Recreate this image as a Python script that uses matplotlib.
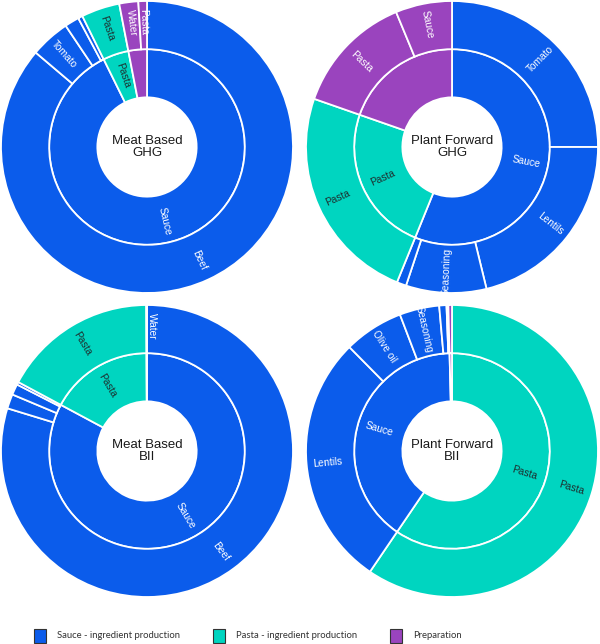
import matplotlib.pyplot as plt
from matplotlib.patches import Rectangle

plt.rcParams['font.family'] = ['Liberation Sans', 'DejaVu Sans']

BLUE = '#0B5CEB'
TEAL = '#00D5C0'
PURPLE = '#9A44BE'

group_names = ['Sauce', 'Pasta', 'Preparation']
group_colors = [BLUE, TEAL, PURPLE]
legend_labels = ['Sauce - ingredient production', 'Pasta - ingredient production', 'Preparation']

# outer ring: ingredient name, group index (0 sauce, 1 pasta, 2 preparation), share in %
mb_ghg_names = ['Beef', 'Tomato', '', '', 'Pasta', 'Water', 'Pasta']
mb_ghg_group = [0, 0, 0, 0, 1, 2, 2]
mb_ghg_vals = [86.2, 4.4, 1.6, 0.5, 4.25, 2.1, 0.95]

pf_ghg_names = ['Tomato', 'Lentils', 'Seasoning', '', 'Pasta', 'Pasta', 'Sauce']
pf_ghg_group = [0, 0, 0, 0, 1, 2, 2]
pf_ghg_vals = [25.0, 21.2, 8.9, 1.05, 24.2, 13.4, 6.25]

mb_bii_names = ['Beef', '', '', '', 'Pasta', 'Water']
mb_bii_group = [0, 0, 0, 0, 1, 2]
mb_bii_vals = [79.75, 1.6, 1.2, 0.3, 17.1, 0.08]

pf_bii_names = ['Pasta', 'Lentils', 'Olive oil', 'Seasoning', '', '', '']
pf_bii_group = [1, 0, 0, 0, 0, 0, 2]
pf_bii_vals = [59.5, 28.1, 6.6, 4.4, 0.8, 0.2, 0.4]

W, H = 600, 644
R = 146
fig = plt.figure(figsize=(W / 100, H / 100), dpi=100)


def label(ax, wedge, text, r, grp):
    mid = (wedge.theta1 + wedge.theta2) / 2
    span = wedge.theta2 - wedge.theta1
    ang = (mid + 180) % 360 - 180
    rot = ang
    if rot > 90:
        rot -= 180
    elif rot < -90:
        rot += 180
    x = r * np.cos(np.radians(mid))
    y = r * np.sin(np.radians(mid))
    col = '#1d2f2f' if grp == 1 else 'white'
    t = ax.text(x, y, text, rotation=rot, rotation_mode='anchor',
                ha='center', va='bottom' if span < 1.5 else 'center',
                fontsize=7.3, color=col)
    if span >= 1.5:
        t.set_clip_path(wedge)


import numpy as np


def sunburst(cx, cy, title, names, grp, vals):
    ax = fig.add_axes([(cx - R) / W, (H - cy - R) / H, 2 * R / W, 2 * R / H])
    order = []
    for g in grp:
        if g not in order:
            order.append(g)
    inner_vals = [sum(v for v, g in zip(vals, grp) if g == k) for k in order]
    wp = dict(width=0.33, edgecolor='white', linewidth=1.3)
    inner, _ = ax.pie(inner_vals, radius=0.67, startangle=90, counterclock=False,
                      colors=[group_colors[k] for k in order], wedgeprops=wp)
    outer, _ = ax.pie(vals, radius=1.0, startangle=90, counterclock=False,
                      colors=[group_colors[g] for g in grp], wedgeprops=wp)
    for w, k in zip(inner, order):
        if k != 2:
            label(ax, w, group_names[k], 0.52, k)
    for w, n, g in zip(outer, names, grp):
        if n:
            label(ax, w, n, 0.855, g)
    ax.text(0, 0, title, ha='center', va='center', fontsize=9.5,
            color='#1a1a1a', linespacing=1.1)
    ax.set_xlim(-1, 1)
    ax.set_ylim(-1, 1)
    ax.axis('off')


sunburst(147, 147, 'Meat Based\nGHG', mb_ghg_names, mb_ghg_group, mb_ghg_vals)
sunburst(452, 147, 'Plant Forward\nGHG', pf_ghg_names, pf_ghg_group, pf_ghg_vals)
sunburst(147, 451, 'Meat Based\nBII', mb_bii_names, mb_bii_group, mb_bii_vals)
sunburst(452, 451, 'Plant Forward\nBII', pf_bii_names, pf_bii_group, pf_bii_vals)

# legend
sq_x = [34, 213, 390]
for i, (lab, col) in enumerate(zip(legend_labels, group_colors)):
    fig.add_artist(Rectangle((sq_x[i] / W, (H - 643) / H), 12 / W, 14 / H,
                             facecolor=col, edgecolor='#333333', linewidth=0.8,
                             transform=fig.transFigure))
    fig.text((sq_x[i] + 23) / W, (H - 636) / H, lab, fontsize=6.8,
             color='#333333', va='center', family=['Lato', 'DejaVu Sans'])

fig.savefig('out.png', dpi=100)
